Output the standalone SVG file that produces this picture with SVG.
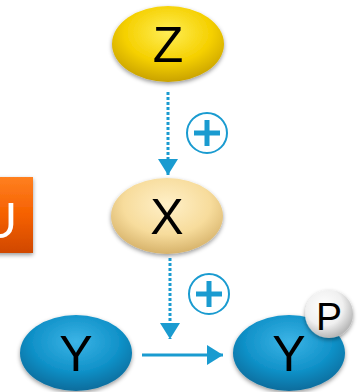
<svg xmlns="http://www.w3.org/2000/svg" width="363" height="392" viewBox="0 0 363 392">
<defs>
<radialGradient id="gY" cx="50%" cy="35%" r="65%">
<stop offset="0" stop-color="#ffee55"/><stop offset="0.6" stop-color="#f5d000"/><stop offset="1" stop-color="#c9a200"/>
</radialGradient>
<radialGradient id="gX" cx="50%" cy="35%" r="65%">
<stop offset="0" stop-color="#fff0c8"/><stop offset="0.6" stop-color="#f7dc9c"/><stop offset="1" stop-color="#d6b26a"/>
</radialGradient>
<radialGradient id="gB" cx="50%" cy="35%" r="65%">
<stop offset="0" stop-color="#3cb4e6"/><stop offset="0.6" stop-color="#1192c9"/><stop offset="1" stop-color="#0a6c9c"/>
</radialGradient>
<radialGradient id="gP" cx="40%" cy="35%" r="65%">
<stop offset="0" stop-color="#ffffff"/><stop offset="0.6" stop-color="#f0f0f0"/><stop offset="1" stop-color="#b8b8b8"/>
</radialGradient>
<linearGradient id="gU" x1="0" y1="0" x2="0" y2="1">
<stop offset="0" stop-color="#ff8020"/><stop offset="0.5" stop-color="#f56000"/><stop offset="1" stop-color="#d04800"/>
</linearGradient>
<filter id="sh" x="-20%" y="-20%" width="140%" height="150%">
<feDropShadow dx="0" dy="2" stdDeviation="2" flood-color="#000" flood-opacity="0.4"/>
</filter>
<marker id="ahb" viewBox="0 0 16 20" refX="16" refY="10" markerWidth="16" markerHeight="20" markerUnits="userSpaceOnUse" orient="auto">
<path d="M0,0 L16,10 L0,20 Z" fill="#1a9bd0"/>
</marker>
</defs>
<style>
.lbl{font-family:"Liberation Sans",Arial,sans-serif;font-size:50px;fill:#000;text-anchor:middle}
.conn{stroke:#1a9bd0;stroke-width:3;fill:none}
.dot{stroke-dasharray:3 2}
.plus{stroke:#1a9bd0;fill:none}
</style>
<g id="connectors">
<line class="conn dot" x1="168" y1="92" x2="168" y2="175" marker-end="url(#ahb)"/>
<line class="conn dot" x1="170" y1="258" x2="170" y2="339" marker-end="url(#ahb)"/>
<line class="conn" x1="142" y1="355" x2="223" y2="355" marker-end="url(#ahb)"/>
</g>
<g id="plus1" class="plus">
<circle cx="207" cy="133" r="20" stroke-width="2"/>
<path d="M194,133 H220 M207,120 V146" stroke-width="5"/>
</g>
<g id="plus2" class="plus">
<circle cx="209" cy="294" r="20" stroke-width="2"/>
<path d="M196,294 H222 M209,281 V307" stroke-width="5"/>
</g>
<g id="Z">
<ellipse cx="168" cy="44" rx="56" ry="38" fill="url(#gY)" filter="url(#sh)"/>
<text class="lbl" x="168" y="62">Z</text>
</g>
<g id="U">
<rect x="-6" y="177" width="39" height="76" fill="url(#gU)" filter="url(#sh)"/>
<text class="lbl" x="-1" y="238" style="fill:#fff">U</text>
</g>
<g id="X">
<ellipse cx="167" cy="216" rx="56" ry="38" fill="url(#gX)" filter="url(#sh)"/>
<text class="lbl" x="167" y="234">X</text>
</g>
<g id="Y1">
<ellipse cx="76" cy="353" rx="56" ry="38" fill="url(#gB)" filter="url(#sh)"/>
<text class="lbl" x="76" y="371">Y</text>
</g>
<g id="Y2">
<ellipse cx="289" cy="353" rx="56" ry="38" fill="url(#gB)" filter="url(#sh)"/>
<text class="lbl" x="289" y="371">Y</text>
<circle cx="329" cy="314" r="24" fill="url(#gP)" filter="url(#sh)"/>
<text class="lbl" x="329" y="330" style="font-size:39px">P</text>
</g>
</svg>
